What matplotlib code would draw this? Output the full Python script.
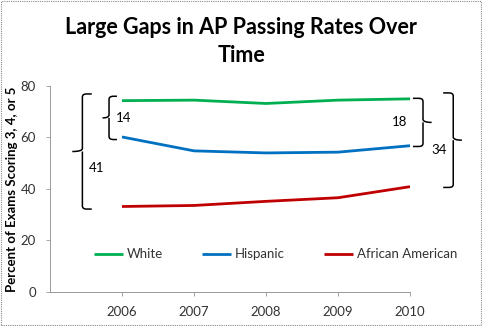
import numpy as np
import matplotlib.pyplot as plt
from matplotlib.path import Path
from matplotlib.patches import PathPatch, Rectangle

plt.rcParams['font.family'] = ['Lato', 'DejaVu Sans']

years = [2006, 2007, 2008, 2009, 2010]
white = [74.3, 74.5, 73.2, 74.5, 75.0]
hispanic = [60.2, 54.8, 54.0, 54.3, 56.8]
african_american = [33.2, 33.6, 35.2, 36.6, 40.9]

series = [
    ('White', white, '#00B050'),
    ('Hispanic', hispanic, '#0070C0'),
    ('African American', african_american, '#C00000'),
]

fig = plt.figure(figsize=(4.82, 3.26), dpi=100)
ax = fig.add_axes([0.1037, 0.1043, 0.747, 0.632])

for name, vals, col in series:
    ax.plot(years, vals, color=col, lw=2.0, label=name, solid_capstyle='butt')

ax.set_xlim(2005, 2010)
ax.set_ylim(0, 80)
ax.set_xticks(years)
ax.set_yticks([0, 20, 40, 60, 80])
ax.tick_params(axis='both', labelsize=9.5, labelcolor='#333333', length=3, width=0.6,
               color='#999999')
ax.tick_params(axis='y', pad=7)
ax.tick_params(axis='x', pad=7)
for s in ['top', 'right']:
    ax.spines[s].set_visible(False)
for s in ['left', 'bottom']:
    ax.spines[s].set_color('#999999')
    ax.spines[s].set_linewidth(0.7)

ax.set_ylabel('Percent of Exams Scoring 3, 4, or 5', fontsize=9.5,
              fontweight='bold', labelpad=2)

ax.legend(loc='upper left', bbox_to_anchor=(0.09, 0.27), ncol=3, frameon=False,
          fontsize=9.5, handlelength=2.2, handletextpad=0.25, columnspacing=3.0,
          labelcolor='#333333')


def brace(x0, x1, xtip, ylo, yhi):
    # square-ish curly brace: hooks at x1, spine at x0, tip pointing to xtip
    r = 0.06 * (1 if x1 > x0 else -1)
    ym = (ylo + yhi) / 2
    verts = [(x1, yhi), (x0 + r, yhi), (x0, yhi), (x0, yhi - 1.2),
             (x0, ym + 1.2), (x0, ym), (xtip, ym),
             (x0, ym), (x0, ym - 1.2),
             (x0, ylo + 1.2), (x0, ylo), (x0 + r, ylo), (x1, ylo)]
    codes = [Path.MOVETO, Path.LINETO, Path.CURVE3, Path.CURVE3,
             Path.LINETO, Path.CURVE3, Path.CURVE3,
             Path.MOVETO, Path.CURVE3,
             Path.LINETO, Path.CURVE3, Path.CURVE3, Path.LINETO]
    ax.add_patch(PathPatch(Path(verts, codes), fill=False, lw=1.1,
                           color='black', clip_on=False))


# gaps at the first and last year
g14 = white[0] - hispanic[0]
g41 = white[0] - african_american[0]
g18 = white[-1] - hispanic[-1]
g34 = white[-1] - african_american[-1]

brace(2005.82, 2005.93, 2005.73, hispanic[0] - 1.0, white[0] + 1.7)
ax.text(2006.02, (white[0] + hispanic[0]) / 2 + 0.3, f'{g14:.0f}', fontsize=9.5,
        ha='center', va='center', clip_on=False)
brace(2005.45, 2005.58, 2005.31, african_american[0] - 1.0, white[0] + 2.6)
ax.text(2005.65, (white[0] + african_american[0]) / 2 - 5.5, f'{g41:.0f}', fontsize=9.5,
        ha='center', va='center', clip_on=False)

brace(2010.18, 2010.04, 2010.3, hispanic[-1] - 0.3, white[-1] + 0.2)
ax.text(2009.85, (white[-1] + hispanic[-1]) / 2 + 0.3, f'{g18:.0f}', fontsize=9.5,
        ha='center', va='center', clip_on=False)
brace(2010.6, 2010.46, 2010.72, african_american[-1] - 0.3, white[-1] + 2.3)
ax.text(2010.4, (white[-1] + african_american[-1]) / 2 - 3.0, f'{g34:.0f}', fontsize=9.5,
        ha='center', va='center', clip_on=False)

fig.text(0.5, 0.915, 'Large Gaps in AP Passing Rates Over', fontsize=15.5,
         fontweight='bold', ha='center', va='center')
fig.text(0.5, 0.83, 'Time', fontsize=15.5, fontweight='bold', ha='center', va='center')

fig.patches.append(Rectangle((0.002, 0.003), 0.995, 0.994, transform=fig.transFigure,
                             fill=False, ec='#888888', lw=0.8, ls=(0, (1, 1))))

fig.savefig('out.png', dpi=100)
